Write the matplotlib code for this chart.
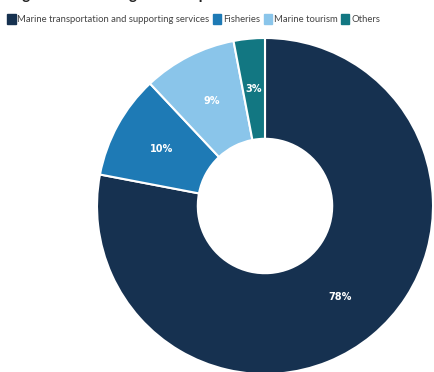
import matplotlib.pyplot as plt
from matplotlib.patches import Patch

# data
segments = ['Marine transportation and supporting services', 'Fisheries',
            'Marine tourism', 'Others']
shares = [78, 10, 9, 3]
colors = ['#163150', '#1e7ab5', '#8ac5ea', '#127782']

W, H = 435, 372
cx, cy, R = 265, 206, 168   # pie centre and radius in pixels

fig = plt.figure(figsize=(W / 100, H / 100), dpi=100)
ax = fig.add_axes([0, 0, 1, 1])

wedges, texts, autotexts = ax.pie(
    shares, colors=colors, startangle=90, counterclock=False,
    autopct='%d%%', pctdistance=0.7,
    wedgeprops=dict(width=0.6, edgecolor='white', linewidth=1.5),
    textprops=dict(color='white', fontsize=7, fontweight='bold'))

ax.set_aspect('auto')
ax.set_xlim(-cx / R, (W - cx) / R)
ax.set_ylim(-(H - cy) / R, cy / R)
ax.axis('off')

# legend
handles = [Patch(facecolor=c, edgecolor=c) for c in colors]
fig.legend(handles, segments, loc='upper left', bbox_to_anchor=(7 / W, 1 - 14.5 / H),
           ncol=4, frameon=False, handlelength=0.9, handleheight=1.1,
           handletextpad=0.2, columnspacing=0.35, borderaxespad=0, borderpad=0,
           prop=dict(family=['Lato', 'DejaVu Sans'], size=6.8), labelcolor='#444444')

# title (cut off at the top of the image)
fig.text(0.003, 1 + 0.5 / H, 'Large sea-based segment output', fontsize=11,
         fontweight='bold', color='#222222', va='baseline', ha='left',
         family=['Lato', 'DejaVu Sans'])

fig.savefig('out.png', dpi=100)
